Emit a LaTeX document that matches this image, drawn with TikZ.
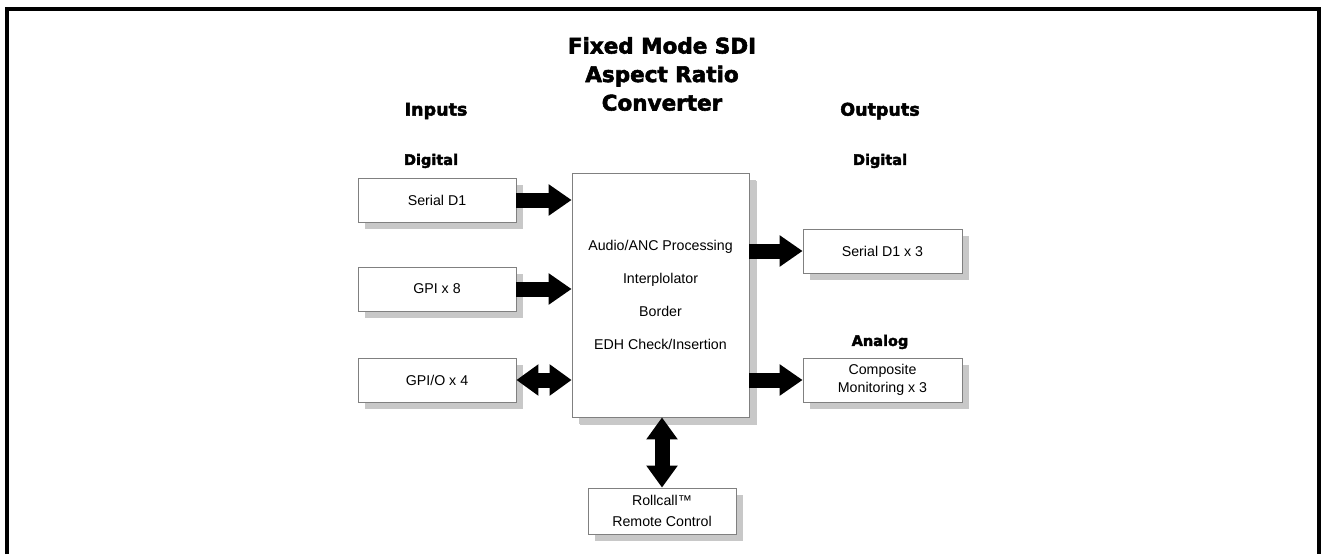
\documentclass[tikz,border=0pt]{standalone}
\usepackage{fontspec}
\setmainfont{Liberation Sans}
\newfontfamily\heavyfont{DejaVu Sans}[FakeBold=2.6]
\usetikzlibrary{arrows.meta,shadows}
\definecolor{boxline}{HTML}{808080}
\definecolor{shadowgray}{HTML}{C8C8C8}
\tikzset{
  unitbox/.style={draw=boxline, line width=0.8pt, fill=white, inner sep=0pt,
    align=center, font=\fontsize{14.2}{17.5}\selectfont,
    drop shadow={shadow xshift=7pt, shadow yshift=-7pt, opacity=1, fill=shadowgray}},
  heading/.style={font=\heavyfont\bfseries\fontsize{17.5}{20}\selectfont},
  subheading/.style={font=\heavyfont\bfseries\fontsize{14.5}{17}\selectfont},
  flow/.style={line width=15pt, -{Triangle[length=23pt,width=30pt]}},
  flowboth/.style={line width=15pt, {Triangle[length=22pt,width=30pt]}-{Triangle[length=22pt,width=30pt]}},
}
\begin{document}
\begin{tikzpicture}[x=1pt, y=-1pt]
\useasboundingbox (0,0) rectangle (1324,554);
% open frame
\draw[line width=4pt] (7,554) -- (7,9) -- (1319,9) -- (1319,554);

% titles
\node[font=\heavyfont\bfseries\fontsize{21.5}{28.5}\selectfont, align=center] (title) at (662,74)
  {Fixed Mode SDI\\Aspect Ratio\\Converter};
\node[heading] (inlbl) at (436,111) {Inputs};
\node[heading] (outlbl) at (880,111) {Outputs};
\node[subheading] (indig) at (431,161) {Digital};
\node[subheading] (outdig) at (880,161) {Digital};
\node[subheading] (outana) at (880,342) {Analog};

% input boxes
\node[unitbox, minimum width=158pt, minimum height=44pt] (sd1) at (437,200) {Serial D1};
\node[unitbox, minimum width=158pt, minimum height=44pt] (gpi) at (437,289) {GPI x 8};
\node[unitbox, minimum width=158pt, minimum height=44pt] (gpio) at (437,380) {GPI/O x 4};

% processor
\node[unitbox, drop shadow={shadow xshift=8pt, shadow yshift=-8pt, opacity=1, fill=shadowgray},
  minimum width=177pt, minimum height=244pt, font=\fontsize{14.2}{33}\selectfont] (main) at (660.5,295)
  {Audio/ANC Processing\\Interplolator\\Border\\EDH Check/Insertion};

% output boxes
\node[unitbox, minimum width=159pt, minimum height=44pt] (sdo) at (882.5,251) {Serial D1 x 3};
\node[unitbox, minimum width=159pt, minimum height=44pt] (comp) at (882.5,380) {Composite\\Monitoring x 3};

% remote control
\node[unitbox, minimum width=148pt, minimum height=46pt, font=\fontsize{14.2}{21}\selectfont] (roll) at (662,511)
  {Rollcall™\\Remote Control};

% connectors
\draw[flow] (sd1.east) -- (sd1.east -| main.west);
\draw[flow] (gpi.east) -- (gpi.east -| main.west);
\draw[flowboth] (gpio.east) -- (gpio.east -| main.west);
\draw[flow] (main.east |- sdo.west) -- (sdo.west);
\draw[flow] (main.east |- comp.west) -- (comp.west);
\draw[flowboth] (roll.north |- main.south) -- (roll.north);
\end{tikzpicture}
\end{document}
